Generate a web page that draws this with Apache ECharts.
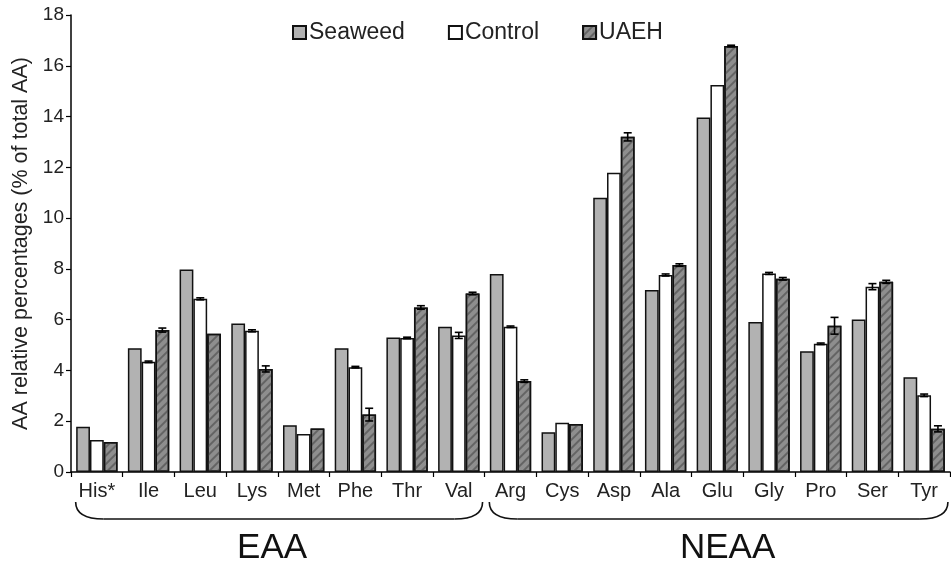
<!DOCTYPE html>
<html>
<head>
<meta charset="utf-8">
<script src="https://cdn.jsdelivr.net/npm/echarts@6/dist/echarts.min.js"></script>
<style>
  html, body { margin: 0; padding: 0; background: #fff; }
  #main { width: 951px; height: 566px; }
</style>
</head>
<body>
<div id="main"></div>
<script>
var aminoAcids = ['His*', 'Ile', 'Leu', 'Lys', 'Met', 'Phe', 'Thr', 'Val',
  'Arg', 'Cys', 'Asp', 'Ala', 'Glu', 'Gly', 'Pro', 'Ser', 'Tyr'];
var seaweed = [1.78, 4.87, 7.98, 5.85, 1.84, 4.87, 5.30, 5.72,
  7.80, 1.57, 10.80, 7.17, 13.96, 5.91, 4.76, 6.01, 3.73];
var control = [1.26, 4.34, 6.82, 5.56, 1.50, 4.13, 5.28, 5.38,
  5.72, 1.94, 11.79, 7.76, 15.24, 7.82, 5.05, 7.30, 3.02];
var uaeh = [1.18, 5.59, 5.45, 4.06, 1.71, 2.26, 6.48, 7.03,
  3.58, 1.89, 13.20, 8.15, 16.78, 7.61, 5.76, 7.49, 1.70];
// standard deviations (0 = no bar drawn)
var controlSd = [0, 0.03, 0.04, 0.04, 0, 0.03, 0.03, 0.12,
  0.03, 0, 0, 0.04, 0, 0.04, 0.03, 0.12, 0.05];
var uaehSd = [0, 0.08, 0, 0.12, 0, 0.25, 0.07, 0.05,
  0.05, 0, 0.16, 0.05, 0.03, 0.05, 0.33, 0.06, 0.12];
var yTicks = { min: 0, max: 18, interval: 2 };
var groups = [
  { name: 'EAA', from: 0, to: 7 },
  { name: 'NEAA', from: 8, to: 16 }
];

var FONT = 'Liberation Sans, Arial, sans-serif';
var CAT_GAP = 0.2;

function errData(values, sd, slot) {
  var out = [];
  values.forEach(function (v, i) {
    if (sd[i] > 0) out.push([i, v - sd[i], v + sd[i], slot]);
  });
  return out;
}

function renderErr(params, api) {
  var band = api.size([1, 0])[0];
  var bw = band * (1 - CAT_GAP) / 3;
  var off = (api.value(3) - 1) * bw;
  var lo = api.coord([api.value(0), api.value(1)]);
  var hi = api.coord([api.value(0), api.value(2)]);
  var x = lo[0] + off;
  var cap = 4;
  var st = { stroke: '#000', lineWidth: 1.6 };
  return {
    type: 'group',
    children: [
      { type: 'line', shape: { x1: x, y1: lo[1], x2: x, y2: hi[1] }, style: st },
      { type: 'line', shape: { x1: x - cap, y1: lo[1], x2: x + cap, y2: lo[1] }, style: st },
      { type: 'line', shape: { x1: x - cap, y1: hi[1], x2: x + cap, y2: hi[1] }, style: st }
    ]
  };
}

var chart = echarts.init(document.getElementById('main'));

var border = { borderColor: '#111', borderWidth: 1.5 };

var option = {
  animation: false,
  textStyle: { fontFamily: FONT },
  grid: { left: 71, right: 1, top: 15, bottom: 94 },
  legend: {
    data: ['Seaweed', 'Control', 'UAEH'],
    left: 287,
    top: 16,
    icon: 'rect',
    itemWidth: 13,
    itemHeight: 13,
    itemGap: 43,
    textStyle: { fontSize: 23, color: '#222', fontFamily: FONT, padding: [0, 0, 0, -2] }
  },
  xAxis: {
    type: 'category',
    data: aminoAcids,
    axisLine: { lineStyle: { color: '#000', width: 1.5 } },
    axisTick: { show: true, length: 5, interval: 0, lineStyle: { color: '#000', width: 1.2 } },
    axisLabel: { fontSize: 20, color: '#222', margin: 9, interval: 0 }
  },
  yAxis: {
    type: 'value',
    min: yTicks.min,
    max: yTicks.max,
    interval: yTicks.interval,
    name: 'AA relative percentages (% of total AA)',
    nameLocation: 'middle',
    nameGap: 38,
    nameTextStyle: { fontSize: 21.5, color: '#222' },
    splitLine: { show: false },
    axisLine: { show: true, lineStyle: { color: '#000', width: 1.5 } },
    axisTick: { show: true, length: 5, lineStyle: { color: '#000', width: 1.2 } },
    axisLabel: { fontSize: 19, color: '#222', margin: 7 }
  },
  series: [
    {
      name: 'Seaweed', type: 'bar', data: seaweed,
      barGap: '0%', barCategoryGap: (CAT_GAP * 100) + '%',
      itemStyle: Object.assign({ color: '#b2b2b2' }, border)
    },
    {
      name: 'Control', type: 'bar', data: control,
      itemStyle: Object.assign({ color: '#ffffff' }, border)
    },
    {
      name: 'UAEH', type: 'bar', data: uaeh,
      itemStyle: Object.assign({
        color: '#8e8e8e',
        decal: {
          symbol: 'rect',
          color: 'rgba(90,90,90,0.8)',
          dashArrayX: [1, 0],
          dashArrayY: [1.5, 3.5],
          rotation: -Math.PI / 4
        }
      }, border)
    },
    {
      type: 'custom', renderItem: renderErr, z: 10,
      data: errData(control, controlSd, 1), silent: true
    },
    {
      type: 'custom', renderItem: renderErr, z: 10,
      data: errData(uaeh, uaehSd, 2), silent: true
    }
  ]
};
chart.setOption(option);

// braces and group labels under the axis
var halfBand = (chart.convertToPixel({ xAxisIndex: 0 }, aminoAcids[1]) -
  chart.convertToPixel({ xAxisIndex: 0 }, aminoAcids[0])) / 2;
var els = [];
var braceStyle = { fill: null, stroke: '#111', lineWidth: 1.6 };
var labelShift = [-7, 9];
groups.forEach(function (g, gi) {
  var x0 = chart.convertToPixel({ xAxisIndex: 0 }, aminoAcids[g.from]) - halfBand * 0.82;
  var x1 = chart.convertToPixel({ xAxisIndex: 0 }, aminoAcids[g.to]) + halfBand * 0.92;
  var yTop = 502, yBot = 519, r = 28;
  els.push({
    type: 'bezierCurve',
    shape: { x1: x0, y1: yTop, cpx1: x0, cpy1: yBot, x2: x0 + r, y2: yBot },
    style: braceStyle
  });
  els.push({
    type: 'line',
    shape: { x1: x0 + r, y1: yBot, x2: x1 - r, y2: yBot },
    style: braceStyle
  });
  els.push({
    type: 'bezierCurve',
    shape: { x1: x1 - r, y1: yBot, cpx1: x1, cpy1: yBot, x2: x1, y2: yTop },
    style: braceStyle
  });
  els.push({
    type: 'text',
    x: (x0 + x1) / 2 + labelShift[gi],
    y: 548,
    style: {
      text: g.name, fontSize: 35, fontFamily: FONT, fill: '#111',
      align: 'center', verticalAlign: 'middle'
    }
  });
});
chart.setOption({ graphic: els });
</script>
</body>
</html>
